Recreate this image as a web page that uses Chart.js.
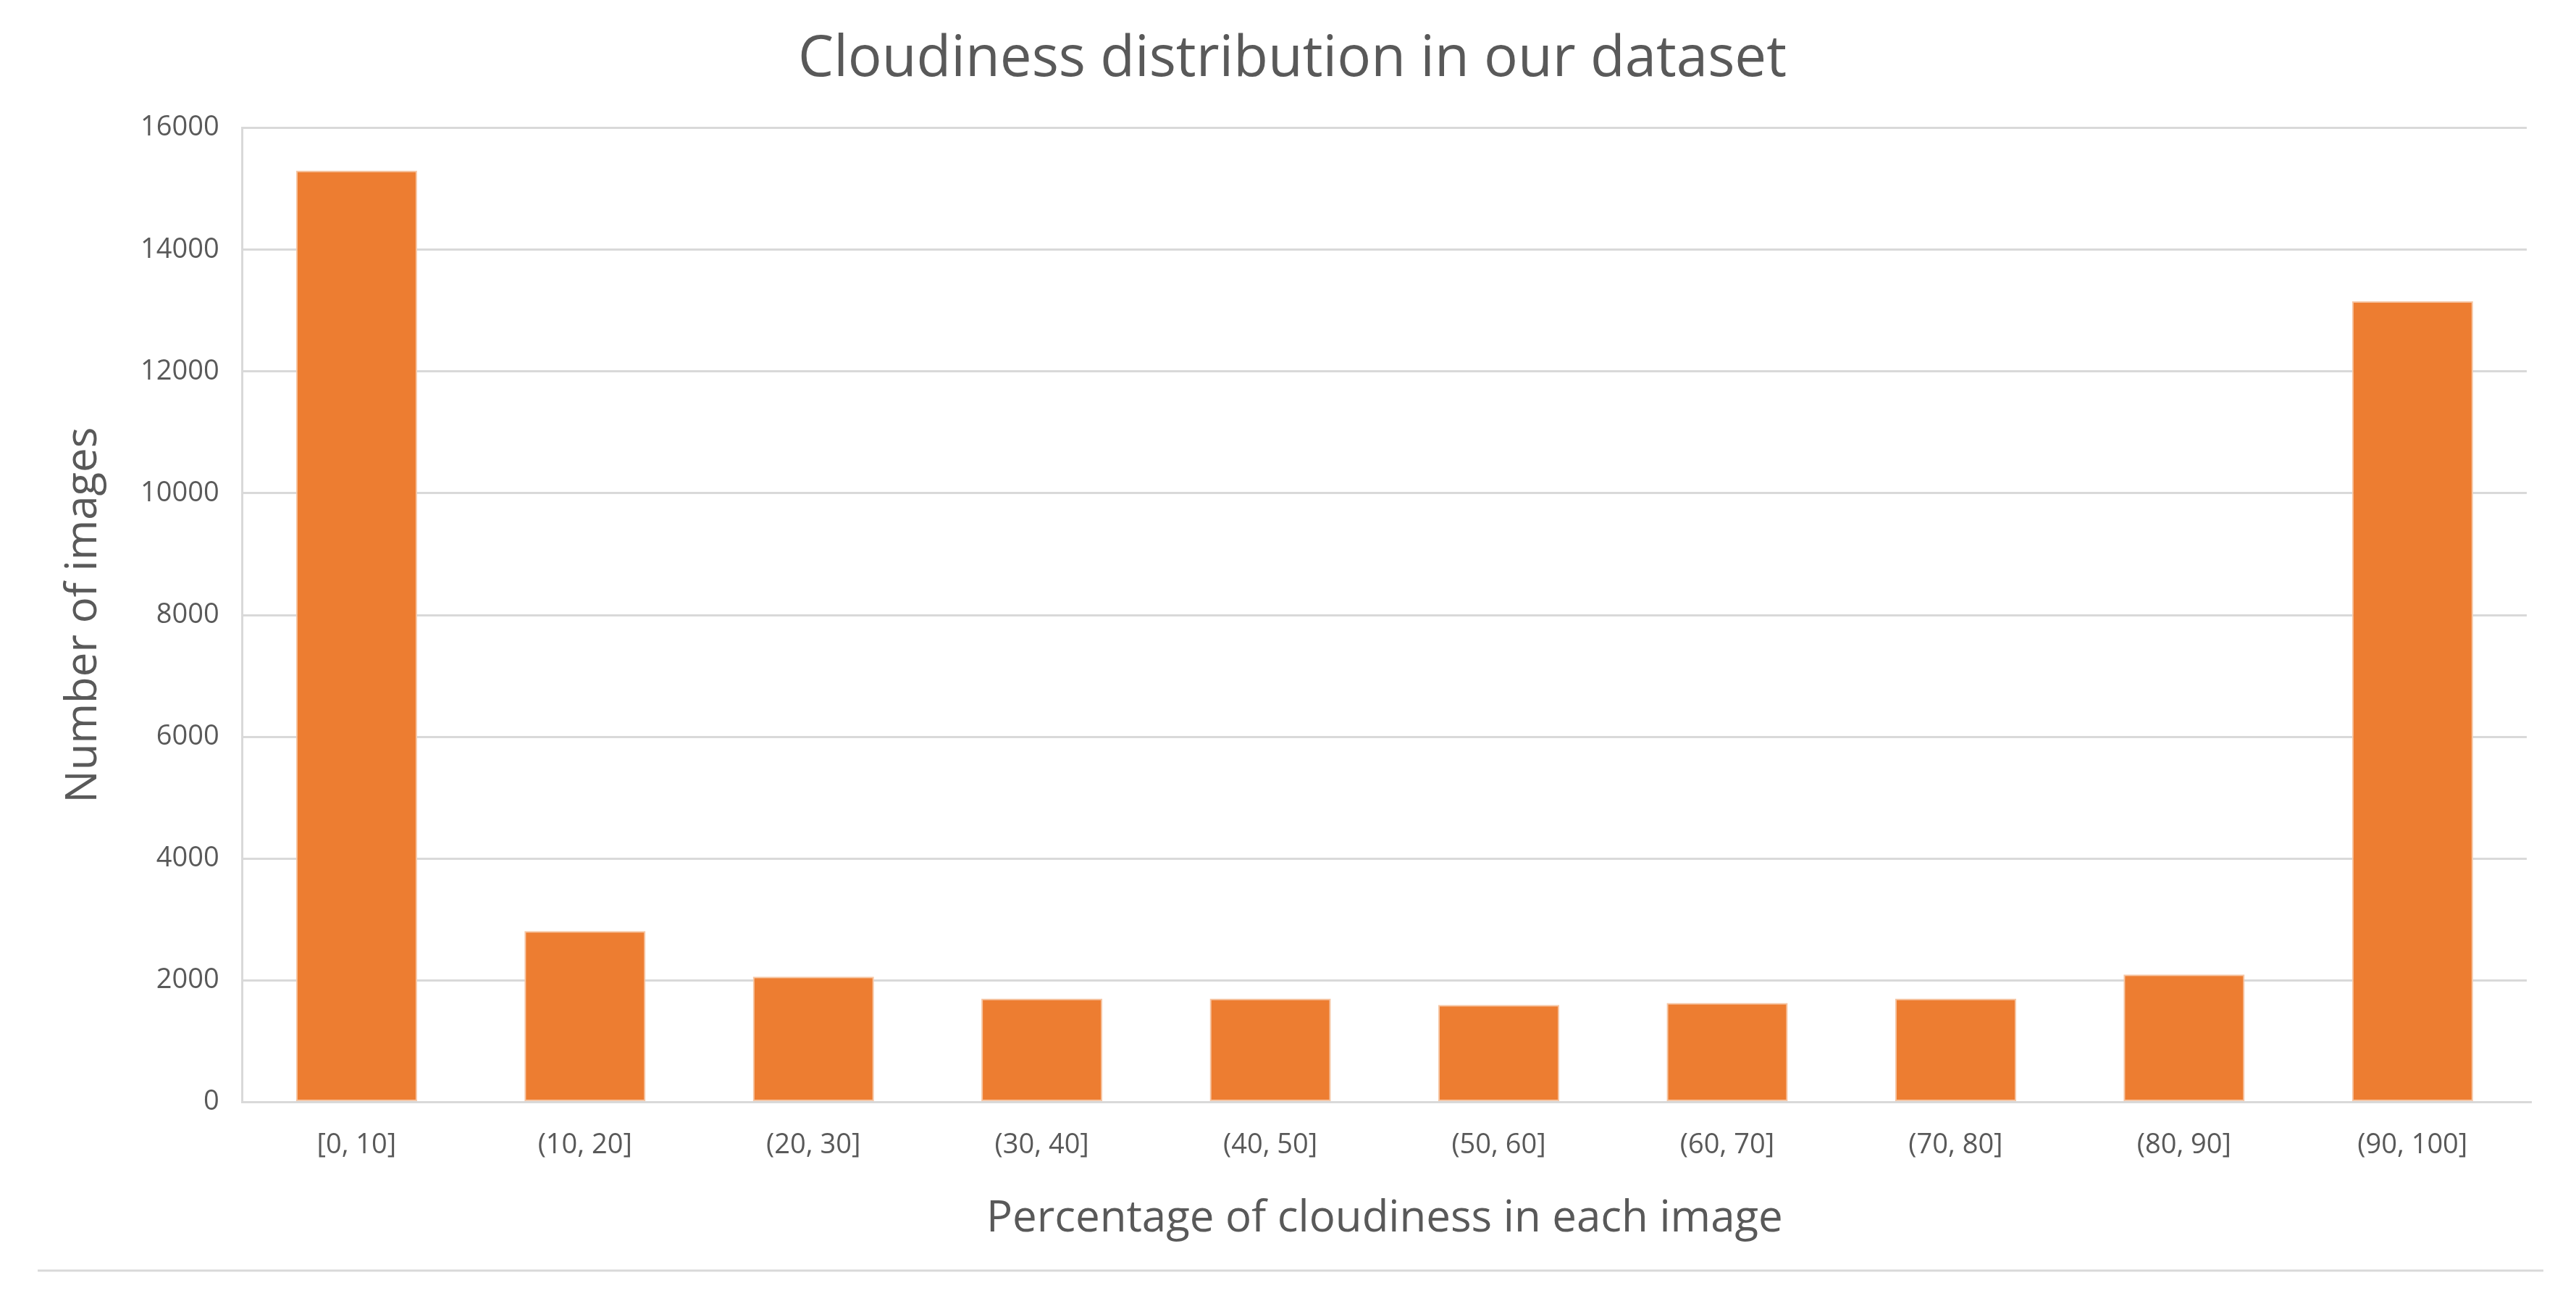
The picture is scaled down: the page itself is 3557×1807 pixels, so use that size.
<!DOCTYPE html>
<html>
<head>
<meta charset="utf-8">
<title>Cloudiness distribution</title>
<script src="https://cdn.jsdelivr.net/npm/chart.js@4.4.0/dist/chart.umd.min.js"></script>
<style>
    html, body { margin: 0; padding: 0; background: #ffffff; }
    #wrap { width: 3557px; height: 1807px; }
</style>
</head>
<body>
<div id="wrap"><canvas id="cloudChart"></canvas></div>
<script>
const categories = ["[0, 10]", "(10, 20]", "(20, 30]", "(30, 40]", "(40, 50]",
                    "(50, 60]", "(60, 70]", "(70, 80]", "(80, 90]", "(90, 100]"];
const imageCounts = [15300, 2810, 2060, 1700, 1700, 1595, 1630, 1700, 2095, 13155];
const yTicks = [0, 2000, 4000, 6000, 8000, 10000, 12000, 14000, 16000];

const textColor = '#595959';
const gridColor = '#d9d9d9';

// zero line sits on top of the bars, plus the thin frame line under the chart
const overlayLines = {
    id: 'overlayLines',
    afterDatasetsDraw(chart) {
        const ctx = chart.ctx;
        const area = chart.chartArea;
        const y0 = chart.scales.y.getPixelForValue(0);
        ctx.save();
        ctx.strokeStyle = gridColor;
        ctx.lineWidth = 3;
        ctx.beginPath();
        ctx.moveTo(area.left, y0);
        ctx.lineTo(area.right + 7, y0);
        ctx.stroke();
        ctx.beginPath();
        ctx.moveTo(52, chart.height - 53);
        ctx.lineTo(chart.width - 45, chart.height - 53);
        ctx.stroke();
        ctx.restore();
    }
};

window.onload = function () {
    const ctx = document.getElementById('cloudChart').getContext('2d');
    new Chart(ctx, {
        type: 'bar',
        data: {
            labels: categories,
            datasets: [{
                label: 'Number of images',
                data: imageCounts,
                backgroundColor: '#ED7D31',
                borderColor: '#F6C6A4',
                borderWidth: 2,
                borderSkipped: false,
                barPercentage: 0.53,
                categoryPercentage: 1.0
            }]
        },
        options: {
            responsive: true,
            maintainAspectRatio: false,
            animation: false,
            layout: {
                padding: { left: 80, right: 68, top: 36, bottom: 88 }
            },
            plugins: {
                legend: { display: false },
                tooltip: { enabled: false },
                title: {
                    display: true,
                    text: 'Cloudiness distribution in our dataset',
                    color: textColor,
                    font: { family: 'Open Sans', size: 78, weight: 'normal', lineHeight: 1.2 },
                    padding: { top: 0, bottom: 47 }
                }
            },
            scales: {
                x: {
                    grid: { display: false },
                    border: { display: false },
                    ticks: {
                        color: textColor,
                        font: { family: 'Open Sans', size: 38 },
                        padding: 29,
                        maxRotation: 0
                    },
                    title: {
                        display: true,
                        text: 'Percentage of cloudiness in each image',
                        color: textColor,
                        font: { family: 'Open Sans', size: 60, lineHeight: 1.2 },
                        padding: { top: 14, bottom: 0 }
                    }
                },
                y: {
                    min: 0,
                    max: 16000,
                    afterBuildTicks(scale) {
                        scale.ticks = yTicks.map(v => ({ value: v }));
                    },
                    grid: {
                        color: gridColor,
                        lineWidth: 3,
                        drawTicks: false
                    },
                    border: { display: true, color: gridColor, width: 3 },
                    ticks: {
                        color: textColor,
                        font: { family: 'Open Sans', size: 38 },
                        padding: 32,
                        callback: value => String(value)
                    },
                    title: {
                        display: true,
                        text: 'Number of images',
                        color: textColor,
                        font: { family: 'Open Sans', size: 60, lineHeight: 1.2 },
                        padding: { top: 0, bottom: 10 }
                    }
                }
            }
        },
        plugins: [overlayLines]
    });
};
</script>
</body>
</html>
